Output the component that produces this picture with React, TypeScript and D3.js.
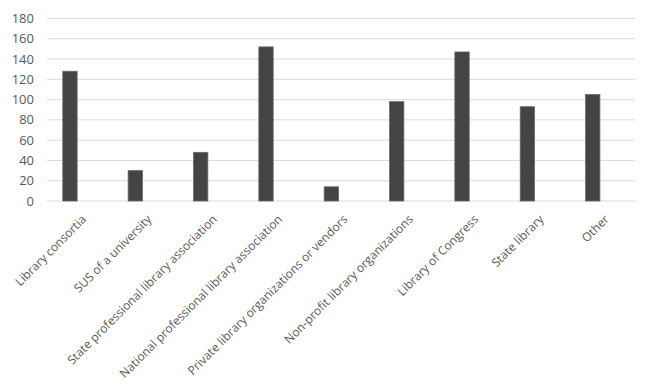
import React from 'react';
import * as d3 from 'd3';

const categories = [
  'Library consortia',
  'SUS of a university',
  'State professional library association',
  'National professional library association',
  'Private library organizations or vendors',
  'Non-profit library organizations',
  'Library of Congress',
  'State library',
  'Other',
];
const counts = [128, 30, 48, 152, 14, 98, 147, 93, 105];
const yTicks = [0, 20, 40, 60, 80, 100, 120, 140, 160, 180];

const W = 648;
const H = 386;
const gridLeft = 47;
const gridRight = 635;
const plotTop = 18.5;
const plotBottom = 201;

export default function App() {
  const x = d3.scaleBand<string>()
    .domain(categories)
    .range([37.3, 625.4])
    .paddingInner(0.78)
    .paddingOuter(0.39);
  const y = d3.scaleLinear()
    .domain([0, 180])
    .range([plotBottom, plotTop]);

  return (
    <svg width={W} height={H} style={{ position: 'absolute', left: 0, top: 0, background: '#fff' }}
      fontFamily="'Open Sans', sans-serif">
      {yTicks.map(t => (
        <g key={t}>
          <line x1={gridLeft} x2={gridRight} y1={y(t)} y2={y(t)} stroke="#d9d9d9" strokeWidth={1} />
          <text x={34} y={y(t)} dy="0.35em" textAnchor="end" fontSize={13} fill="#595959">{t}</text>
        </g>
      ))}
      {categories.map((c, i) => (
        <rect key={c} x={x(c)} y={y(counts[i])} width={x.bandwidth()} height={plotBottom - y(counts[i])}
          fill="#444444" stroke="#6a6a6a" strokeWidth={0.8} />
      ))}
      {categories.map(c => {
        const cx = (x(c) as number) + x.bandwidth() / 2;
        return (
          <text key={c} transform={`translate(${cx + 11},${214}) rotate(-45)`} textAnchor="end"
            dy="0.71em" fontSize={12} fill="#595959">{c}</text>
        );
      })}
    </svg>
  );
}
